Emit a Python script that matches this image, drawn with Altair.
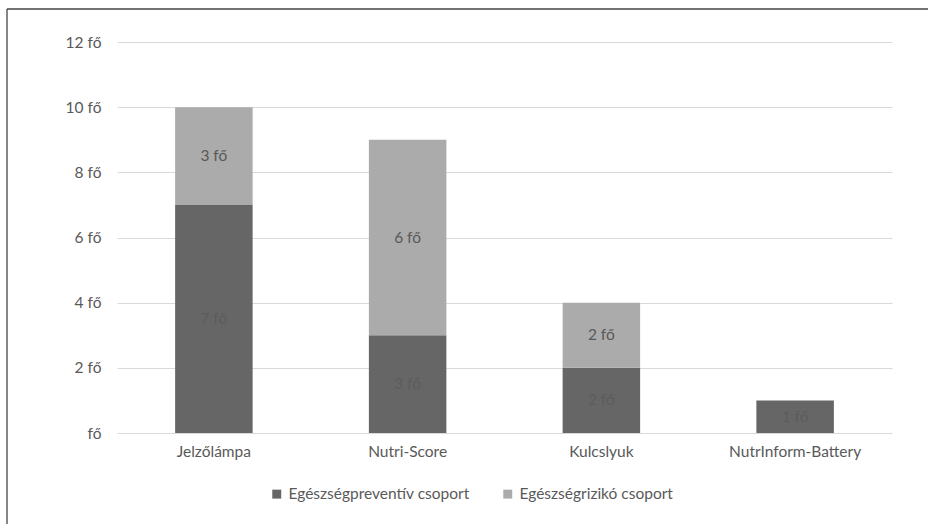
import altair as alt
import pandas as pd

categories = ["Jelzőlámpa", "Nutri-Score", "Kulcslyuk", "NutrInform-Battery"]
series = ["Egészségpreventív csoport", "Egészségrizikó csoport"]
preventiv = [7, 3, 2, 1]
rizikos = [3, 6, 2, 0]
y_ticks = [0, 2, 4, 6, 8, 10, 12]

rows = []
for i, c in enumerate(categories):
    rows.append({"cat": c, "series": series[0], "value": preventiv[i], "ord": 0})
    if rizikos[i] > 0:
        rows.append({"cat": c, "series": series[1], "value": rizikos[i], "ord": 1})
df = pd.DataFrame(rows)

FONT = "Lato"
LABEL = "#595959"
FS = 15.5

color_scale = alt.Scale(domain=series, range=["#666666", "#ababab"])
x_enc = alt.X("cat:N", sort=categories, title=None,
              scale=alt.Scale(paddingInner=0.6, paddingOuter=0.3),
              axis=alt.Axis(labelAngle=0, domain=False, ticks=False, labelFontSize=FS,
                            labelColor=LABEL, labelFont=FONT, labelPadding=11))

bars = alt.Chart(df).mark_bar(stroke=None).encode(
    x=x_enc,
    y=alt.Y("value:Q", stack="zero", title=None,
            scale=alt.Scale(domain=[0, 12], nice=False),
            axis=alt.Axis(values=y_ticks, domain=False, ticks=False, gridColor="#d9d9d9",
                          gridWidth=1, labelFontSize=FS, labelColor=LABEL, labelFont=FONT,
                          labelPadding=16,
                          labelExpr="datum.value == 0 ? 'fő' : datum.value + ' fő'")),
    color=alt.Color("series:N", scale=color_scale, sort=series,
                    legend=alt.Legend(title=None, orient="none", direction="horizontal",
                                      legendX=152, legendY=444, symbolType="square",
                                      symbolSize=80, symbolStrokeWidth=0, labelFontSize=FS,
                                      labelColor=LABEL, labelFont=FONT, columnPadding=30,
                                      labelOffset=4, labelLimit=0)),
    order=alt.Order("ord:Q"),
)

labels = alt.Chart(df).transform_stack(
    stack="value", groupby=["cat"], as_=["v0", "v1"], sort=[alt.SortField("ord")]
).transform_calculate(
    mid="(datum.v0 + datum.v1) / 2", lab="datum.value + ' fő'"
).mark_text(font=FONT, fontSize=FS, baseline="middle").encode(
    x=alt.X("cat:N", sort=categories),
    y=alt.Y("mid:Q"),
    text="lab:N",
    color=alt.condition(alt.datum.ord == 0, alt.value("#5c5c5c"), alt.value("#595959")),
)

frame_df = pd.DataFrame({"a": [0]})
frame_left = alt.Chart(frame_df).mark_rule(stroke="#444444", strokeWidth=1.3).encode(
    x=alt.value(-110), y=alt.value(-33), y2=alt.value(482))
frame_top = alt.Chart(frame_df).mark_rule(stroke="#444444", strokeWidth=1.3).encode(
    x=alt.value(-110), x2=alt.value(811), y=alt.value(-33))

chart = alt.layer(frame_left, frame_top, bars, labels).properties(
    width=775, height=391,
    autosize=alt.AutoSizeParams(type="none"),
    padding={"left": 117, "top": 42, "right": 36, "bottom": 91},
    background="white",
).configure_view(stroke=None)

chart.save("out.html", embed_options={"renderer": "svg", "actions": False})
